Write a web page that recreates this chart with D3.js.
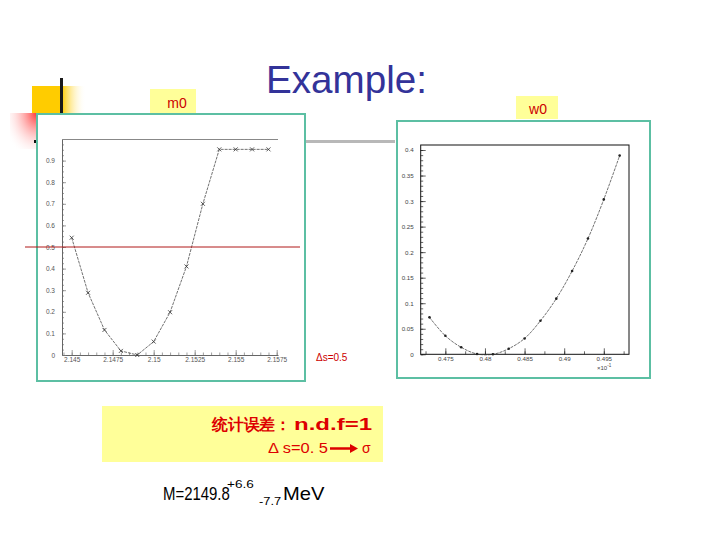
<!DOCTYPE html>
<html><head><meta charset="utf-8">
<script src="https://cdn.jsdelivr.net/npm/d3@7"></script>
<style>
body{margin:0;background:#fff}
svg{display:block}
text{font-family:"Liberation Sans",Arial,sans-serif}
</style>
</head><body>
<svg id="c" width="720" height="540"></svg>
<script>
// ---------- data ----------
const m0Mass = [2.145,2.146,2.147,2.148,2.149,2.150,2.151,2.152,2.153,2.154,2.155,2.156,2.157];
const m0Chi2 = [0.543,0.288,0.116,0.019,0.0,0.062,0.198,0.41,0.70,0.952,0.952,0.952,0.952];
const m0XTicks = [2.145,2.1475,2.15,2.1525,2.155,2.1575];
const m0XTickLabels = ["2.145","2.1475","2.15","2.1525","2.155","2.1575"];
const m0YTicks = [0,0.1,0.2,0.3,0.4,0.5,0.6,0.7,0.8,0.9];
const m0YTickLabels = ["0","0.1","0.2","0.3","0.4","0.5","0.6","0.7","0.8","0.9"];

const w0Width = [0.473,0.475,0.477,0.479,0.481,0.483,0.485,0.487,0.489,0.491,0.493,0.495,0.497];
const w0Chi2 = [0.0723,0.0363,0.0137,0.0006,0.0,0.011,0.031,0.0656,0.109,0.163,0.2266,0.3033,0.389];
const w0XTicks = [0.475,0.48,0.485,0.49,0.495];
const w0XTickLabels = ["0.475","0.48","0.485","0.49","0.495"];
const w0YTicks = [0,0.05,0.1,0.15,0.2,0.25,0.3,0.35,0.4];
const w0YTickLabels = ["0","0.05","0.1","0.15","0.2","0.25","0.3","0.35","0.4"];

const deltaS = 0.5;

// ---------- drawing ----------
const svg = d3.select("#c");
const defs = svg.append("defs");

const gy = defs.append("linearGradient").attr("id","gy").attr("x1","0").attr("x2","1").attr("y1","0").attr("y2","0");
gy.append("stop").attr("offset","0%").attr("stop-color","#FFCC00");
gy.append("stop").attr("offset","55%").attr("stop-color","#FFCC00");
gy.append("stop").attr("offset","100%").attr("stop-color","#FFFFFF").attr("stop-opacity",0);

const gr = defs.append("radialGradient").attr("id","gr").attr("cx","1").attr("cy","0").attr("r","1.3").attr("fx","1").attr("fy","0");
gr.append("stop").attr("offset","0%").attr("stop-color","#FF3333");
gr.append("stop").attr("offset","100%").attr("stop-color","#FFFFFF").attr("stop-opacity",0);

// slide template decorations
svg.append("rect").attr("x",32).attr("y",86).attr("width",54).attr("height",27).attr("fill","url(#gy)");
svg.append("rect").attr("x",10).attr("y",113).attr("width",27).attr("height",36).attr("fill","url(#gr)");
svg.append("line").attr("x1",61.5).attr("y1",78).attr("x2",61.5).attr("y2",113).attr("stroke","#1a1a1a").attr("stroke-width",3);
svg.append("line").attr("x1",36).attr("y1",141.5).attr("x2",395).attr("y2",141.5).attr("stroke","#b8b8b8").attr("stroke-width",3);
svg.append("rect").attr("x",34).attr("y",140).attr("width",3).attr("height",3).attr("fill","#111");

// title
svg.append("text").attr("x",266).attr("y",93).attr("font-size",39).attr("fill","#333399")
  .attr("textLength",161).attr("lengthAdjust","spacingAndGlyphs").text("Example:");

// labels m0 / w0
svg.append("rect").attr("x",150).attr("y",89).attr("width",46).attr("height",25).attr("fill","#FFFF99");
svg.append("text").attr("x",177).attr("y",108).attr("text-anchor","middle").attr("font-size",14).attr("fill","#CC0000").text("m0");
svg.append("rect").attr("x",516).attr("y",96).attr("width",42).attr("height",23).attr("fill","#FFFF99");
svg.append("text").attr("x",538).attr("y",114).attr("text-anchor","middle").attr("font-size",14).attr("fill","#CC0000").text("w0");

// ---------- left panel (m0) ----------
svg.append("rect").attr("x",37).attr("y",114).attr("width",268).attr("height",267)
  .attr("fill","#fff").attr("stroke","#5cbfa3").attr("stroke-width",2);

const xL = d3.scaleLinear().domain([2.14441,2.15758]).range([62,278]);
const yL = d3.scaleLinear().domain([0,1]).range([355,139]);
const gL = svg.append("g");

gL.append("g").attr("transform","translate(0,355)")
  .call(d3.axisBottom(xL).tickValues(d3.range(2.1445,2.1576,0.0005)).tickSize(-2.5).tickSizeOuter(0).tickFormat(""))
  .call(g=>g.select(".domain").remove());
gL.append("g").attr("transform","translate(62,0)")
  .call(d3.axisLeft(yL).tickValues(d3.range(0,1.0001,0.025)).tickSize(-2).tickSizeOuter(0).tickFormat(""))
  .call(g=>g.select(".domain").remove());
gL.append("g").attr("transform","translate(0,355)")
  .call(d3.axisBottom(xL).tickValues(m0XTicks).tickSize(-5).tickSizeOuter(0).tickPadding(2)
    .tickFormat((d,i)=>m0XTickLabels[i]));
gL.append("g").attr("transform","translate(62,0)")
  .call(d3.axisLeft(yL).tickValues(m0YTicks).tickSize(-4).tickSizeOuter(0).tickPadding(7)
    .tickFormat((d,i)=>m0YTickLabels[i]));
gL.selectAll("line").attr("stroke","#777").attr("stroke-width",0.7);
gL.selectAll(".domain").attr("stroke","#666").attr("stroke-width",1);
gL.selectAll("text").attr("font-size",6.5).attr("fill","#555");
gL.append("line").attr("x1",62).attr("x2",278).attr("y1",139.5).attr("y2",139.5).attr("stroke","#888").attr("stroke-width",1);

const lineL = d3.line().x((d,i)=>xL(m0Mass[i])).y(d=>yL(d));
gL.append("path").attr("d",lineL(m0Chi2)).attr("fill","none").attr("stroke","#333").attr("stroke-width",0.7).attr("stroke-dasharray","3,1");
gL.selectAll(".mk").data(m0Chi2).enter().append("path").attr("class","mk")
  .attr("transform",(d,i)=>`translate(${xL(m0Mass[i])},${yL(d)})`)
  .attr("d","M-2,-2L2,2M-2,2L2,-2").attr("stroke","#333").attr("stroke-width",0.8);

// Δs = 0.5 red line
svg.append("line").attr("x1",25).attr("x2",300).attr("y1",yL(deltaS)).attr("y2",yL(deltaS))
  .attr("stroke","#B01818").attr("stroke-width",1);
svg.append("text").attr("x",316).attr("y",361).attr("font-size",10).attr("fill","#CC0000").text("Δs=0.5");

// ---------- right panel (w0) ----------
svg.append("rect").attr("x",397).attr("y",121).attr("width",253).attr("height",257)
  .attr("fill","#fff").attr("stroke","#5cbfa3").attr("stroke-width",2);

const xR = d3.scaleLinear().domain([0.47189,0.49818]).range([420.7,629]);
const yR = d3.scaleLinear().domain([0,0.4098]).range([354.3,145]);
const gR = svg.append("g");

gR.append("g").attr("transform","translate(0,354.3)")
  .call(d3.axisBottom(xR).tickValues(d3.range(0.4725,0.4981,0.0025)).tickSize(-3).tickSizeOuter(0).tickFormat(""))
  .call(g=>g.select(".domain").remove());
gR.append("g").attr("transform","translate(420.7,0)")
  .call(d3.axisLeft(yR).tickValues(d3.range(0,0.4051,0.01)).tickSize(-2.5).tickSizeOuter(0).tickFormat(""))
  .call(g=>g.select(".domain").remove());
gR.append("g").attr("transform","translate(0,354.3)")
  .call(d3.axisBottom(xR).tickValues(w0XTicks).tickSize(-6).tickSizeOuter(0).tickPadding(2)
    .tickFormat((d,i)=>w0XTickLabels[i]));
gR.append("g").attr("transform","translate(420.7,0)")
  .call(d3.axisLeft(yR).tickValues(w0YTicks).tickSize(-5).tickSizeOuter(0).tickPadding(7)
    .tickFormat((d,i)=>w0YTickLabels[i]));
gR.selectAll("line").attr("stroke","#222").attr("stroke-width",0.7);
gR.selectAll(".domain").remove();
gR.selectAll("text").attr("font-size",6.2).attr("fill","#444");
gR.append("rect").attr("x",420.7).attr("y",145).attr("width",629-420.7).attr("height",354.3-145)
  .attr("fill","none").attr("stroke","#111").attr("stroke-width",1);
const xe = gR.append("text").attr("x",597).attr("y",370).attr("font-size",6).attr("fill","#444").text("×10");
xe.append("tspan").attr("dy",-3).attr("font-size",4.5).text("-1");

const lineR = d3.line().x((d,i)=>xR(w0Width[i])).y(d=>yR(d)).curve(d3.curveCatmullRom);
gR.append("path").attr("d",lineR(w0Chi2)).attr("fill","none").attr("stroke","#333").attr("stroke-width",0.7).attr("stroke-dasharray","3,1");
gR.selectAll(".mk").data(w0Chi2).enter().append("circle").attr("class","mk")
  .attr("cx",(d,i)=>xR(w0Width[i])).attr("cy",d=>yR(d)).attr("r",1.3).attr("fill","#222");

// ---------- bottom notes ----------
svg.append("rect").attr("x",102).attr("y",406).attr("width",281).attr("height",56).attr("fill","#FFFF99");
svg.append("text").attr("x",212).attr("y",430).attr("font-size",16).attr("font-weight","bold").attr("fill","#DD0000")
  .attr("font-family","'Noto Sans CJK SC',sans-serif").attr("textLength",79).attr("lengthAdjust","spacingAndGlyphs").text("统计误差：");
svg.append("text").attr("x",294).attr("y",430).attr("font-size",17).attr("font-weight","bold").attr("fill","#DD0000")
  .attr("textLength",78).attr("lengthAdjust","spacingAndGlyphs").text("n.d.f=1");
svg.append("text").attr("x",268).attr("y",453).attr("font-size",15).attr("fill","#DD0000")
  .attr("textLength",60).attr("lengthAdjust","spacingAndGlyphs").text("Δ s=0. 5");
svg.append("path").attr("d","M330,448.5L352,448.5").attr("stroke","#DD0000").attr("stroke-width",2.5);
svg.append("path").attr("d","M350,444L358,448.5L350,453Z").attr("fill","#DD0000");
svg.append("text").attr("x",362).attr("y",453).attr("font-size",14).attr("fill","#DD0000").text("σ");

// M = 2149.8 +6.6 -7.7 MeV
svg.append("text").attr("transform","translate(163,500) scale(0.83,1)").attr("font-size",18).attr("fill","#000").text("M=2149.8");
svg.append("text").attr("transform","translate(227,488) scale(1.18,1)").attr("font-size",11.5).attr("fill","#000").text("+6.6");
svg.append("text").attr("transform","translate(259,505) scale(1.12,1)").attr("font-size",11.5).attr("fill","#000").text("-7.7");
svg.append("text").attr("transform","translate(283,500) scale(1.12,1)").attr("font-size",18).attr("fill","#000").text("MeV");
</script>
</body></html>
